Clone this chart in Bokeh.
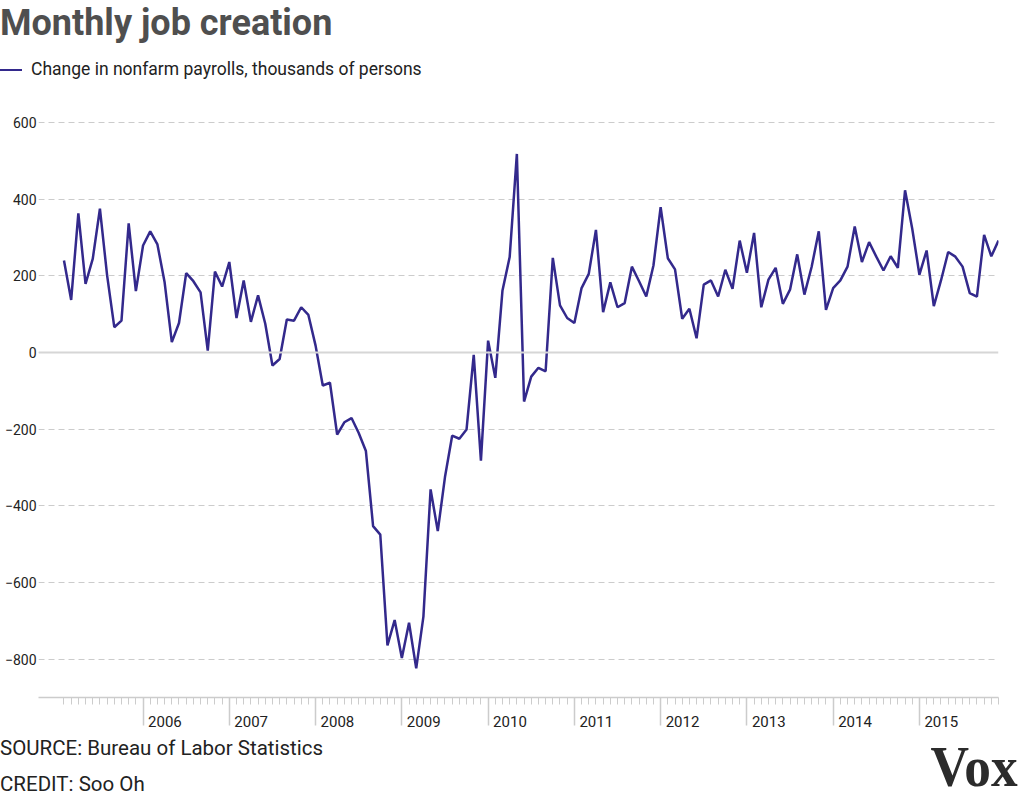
from bokeh.plotting import figure
from bokeh.layouts import column
from bokeh.models import FixedTicker, Range1d, Span, Div, LinearAxis, NumeralTickFormatter
from bokeh.embed import file_html
from bokeh.resources import INLINE

# ---------------- data (thousands of persons, monthly change) ----------------
start_year = 2005
start_month = 2  # first observation: February 2005
jobs_2005 = [240, 137, 363, 179, 244, 375, 201, 66, 83, 337, 160]
jobs_2006 = [279, 316, 282, 183, 27, 77, 207, 186, 157, 5, 211, 172]
jobs_2007 = [236, 90, 188, 80, 149, 75, -34, -17, 86, 83, 118, 98]
jobs_2008 = [18, -86, -79, -214, -182, -171, -210, -257, -453, -475, -764, -698]
jobs_2009 = [-797, -705, -824, -689, -357, -466, -325, -217, -225, -201, -6, -282]
jobs_2010 = [31, -66, 162, 249, 518, -128, -63, -40, -49, 247, 123, 90]
jobs_2011 = [77, 168, 205, 320, 105, 183, 118, 129, 224, 186, 146, 227]
jobs_2012 = [379, 246, 217, 88, 114, 37, 177, 188, 146, 216, 166, 292]
jobs_2013 = [208, 312, 118, 190, 221, 127, 164, 256, 151, 223, 316, 111]
jobs_2014 = [168, 188, 224, 329, 236, 288, 250, 214, 251, 221, 423, 323]
jobs_2015 = [203, 266, 121, 188, 262, 250, 224, 155, 146, 307, 251, 292]

year_labels = [2006, 2007, 2008, 2009, 2010, 2011, 2012, 2013, 2014, 2015]
y_ticks = [-800, -600, -400, -200, 0, 200, 400, 600]

title_text = "Monthly job creation"
legend_text = "Change in nonfarm payrolls, thousands of persons"
source_text = "SOURCE: Bureau of Labor Statistics"
credit_text = "CREDIT: Soo Oh"
logo_text = "Vox"

values_all = (jobs_2005 + jobs_2006 + jobs_2007 + jobs_2008 + jobs_2009 + jobs_2010
              + jobs_2011 + jobs_2012 + jobs_2013 + jobs_2014 + jobs_2015)
dates = [start_year + (start_month - 1 + i) / 12.0 for i in range(len(values_all))]

# ---------------- layout geometry (page pixels) ----------------
W = 1024
HEAD_H = 100
FRAME_H = 597
MAIN_BOTTOM = 38
FOOT_H = 800 - HEAD_H - FRAME_H - MAIN_BOTTOM
FL, FR = 38, 998

FONT = "Roboto"
LINE_COLOR = "#33298c"
GRID_COLOR = "#cccccc"

# ---------------- header: title + legend ----------------
head_html = (
    f'<div style="position:relative;width:{W}px;height:{HEAD_H}px;font-family:{FONT},sans-serif;">'
    f'<div style="position:absolute;left:0;top:5px;font-size:36px;font-weight:bold;'
    f'line-height:1;color:#4f4f4f;white-space:nowrap;">{title_text}</div>'
    f'<div style="position:absolute;left:0;top:69px;width:22px;height:0;'
    f'border-top:2px solid {LINE_COLOR};"></div>'
    f'<div style="position:absolute;left:31px;top:61px;font-size:17.5px;line-height:1;'
    f'color:#222222;white-space:nowrap;">{legend_text}</div>'
    '</div>'
)
head = Div(text=head_html, width=W, height=HEAD_H, margin=0)

# ---------------- main chart ----------------
sy = 230.0 / 600.0
y0 = -900.0
y1 = y0 + FRAME_H / sy
x1 = dates[-1]
x0 = 2004.788
sx = (FR - FL) / (x1 - x0)  # pixels per year

p = figure(width=W, height=FRAME_H + MAIN_BOTTOM,
           x_range=Range1d(x0, x1), y_range=Range1d(y0, y1),
           output_backend="svg", toolbar_location=None,
           min_border_left=FL, min_border_right=W - FR,
           min_border_top=0, min_border_bottom=MAIN_BOTTOM)
p.outline_line_color = None

p.yaxis.ticker = FixedTicker(ticks=y_ticks)
p.yaxis.axis_line_color = None
p.yaxis.major_tick_line_color = None
p.yaxis.minor_tick_line_color = None
p.yaxis.major_tick_in = 0
p.yaxis.major_tick_out = 0
p.yaxis.minor_tick_in = 0
p.yaxis.minor_tick_out = 0
p.yaxis.major_label_standoff = 2
p.yaxis.major_label_text_font = FONT
p.yaxis.major_label_text_font_size = "14px"
p.yaxis.major_label_text_color = "#222222"

# axis with line and month / year ticks (no labels)
ax = p.xaxis[0]
ax.ticker = FixedTicker(ticks=year_labels, minor_ticks=dates)
ax.axis_line_color = GRID_COLOR
ax.axis_line_width = 1.5
ax.major_tick_line_color = GRID_COLOR
ax.major_tick_line_width = 1.5
ax.major_tick_in = 0
ax.major_tick_out = 28
ax.minor_tick_line_color = GRID_COLOR
ax.minor_tick_line_width = 1
ax.minor_tick_in = 0
ax.minor_tick_out = 7
ax.major_label_standoff = 0
ax.major_label_overrides = {yr: "" for yr in year_labels}

# second axis carrying the year labels, placed just right of each year tick
label_font_px = 15
label_shift = (5 + 0.5 * 2.25 * label_font_px) / sx  # gap + half label width, in years
lab = LinearAxis(ticker=FixedTicker(ticks=[yr + label_shift for yr in year_labels], minor_ticks=[]),
                 formatter=NumeralTickFormatter(format="0"))
lab.axis_line_color = None
lab.major_tick_line_color = None
lab.minor_tick_line_color = None
lab.major_tick_in = 0
lab.major_tick_out = 0
lab.minor_tick_in = 0
lab.minor_tick_out = 0
lab.major_label_standoff = -10
lab.major_label_text_font = FONT
lab.major_label_text_font_size = f"{label_font_px}px"
lab.major_label_text_color = "#222222"
p.add_layout(lab, "below")

p.xgrid.visible = False
p.ygrid.ticker = FixedTicker(ticks=y_ticks)
p.ygrid.grid_line_color = GRID_COLOR
p.ygrid.grid_line_dash = "6 4"
p.ygrid.grid_line_width = 1

p.add_layout(Span(location=0, dimension="width", line_color="#d6d6d6", line_width=2))
p.line(dates, values_all, line_color=LINE_COLOR, line_width=2.5)

# ---------------- footer ----------------
foot_html = (
    f'<div style="position:relative;width:{W}px;height:{FOOT_H}px;font-family:{FONT},sans-serif;">'
    f'<div style="position:absolute;left:0;top:1px;font-size:20.5px;line-height:1.2;'
    f'color:#222222;white-space:nowrap;">{source_text}</div>'
    f'<div style="position:absolute;left:0;top:37px;font-size:20.5px;line-height:1.2;'
    f'color:#222222;white-space:nowrap;">{credit_text}</div>'
    f'<div style="position:absolute;right:6px;top:3px;font-family:\'Liberation Serif\',serif;'
    'font-size:58px;font-weight:bold;line-height:1;color:#2b2b2b;white-space:nowrap;'
    f'transform:scaleX(0.92);transform-origin:right center;">{logo_text}</div>'
    '</div>'
)
foot = Div(text=foot_html, width=W, height=FOOT_H, margin=0)

layout = column(head, p, foot, spacing=0)
open("out.html", "w").write(file_html(layout, INLINE))
